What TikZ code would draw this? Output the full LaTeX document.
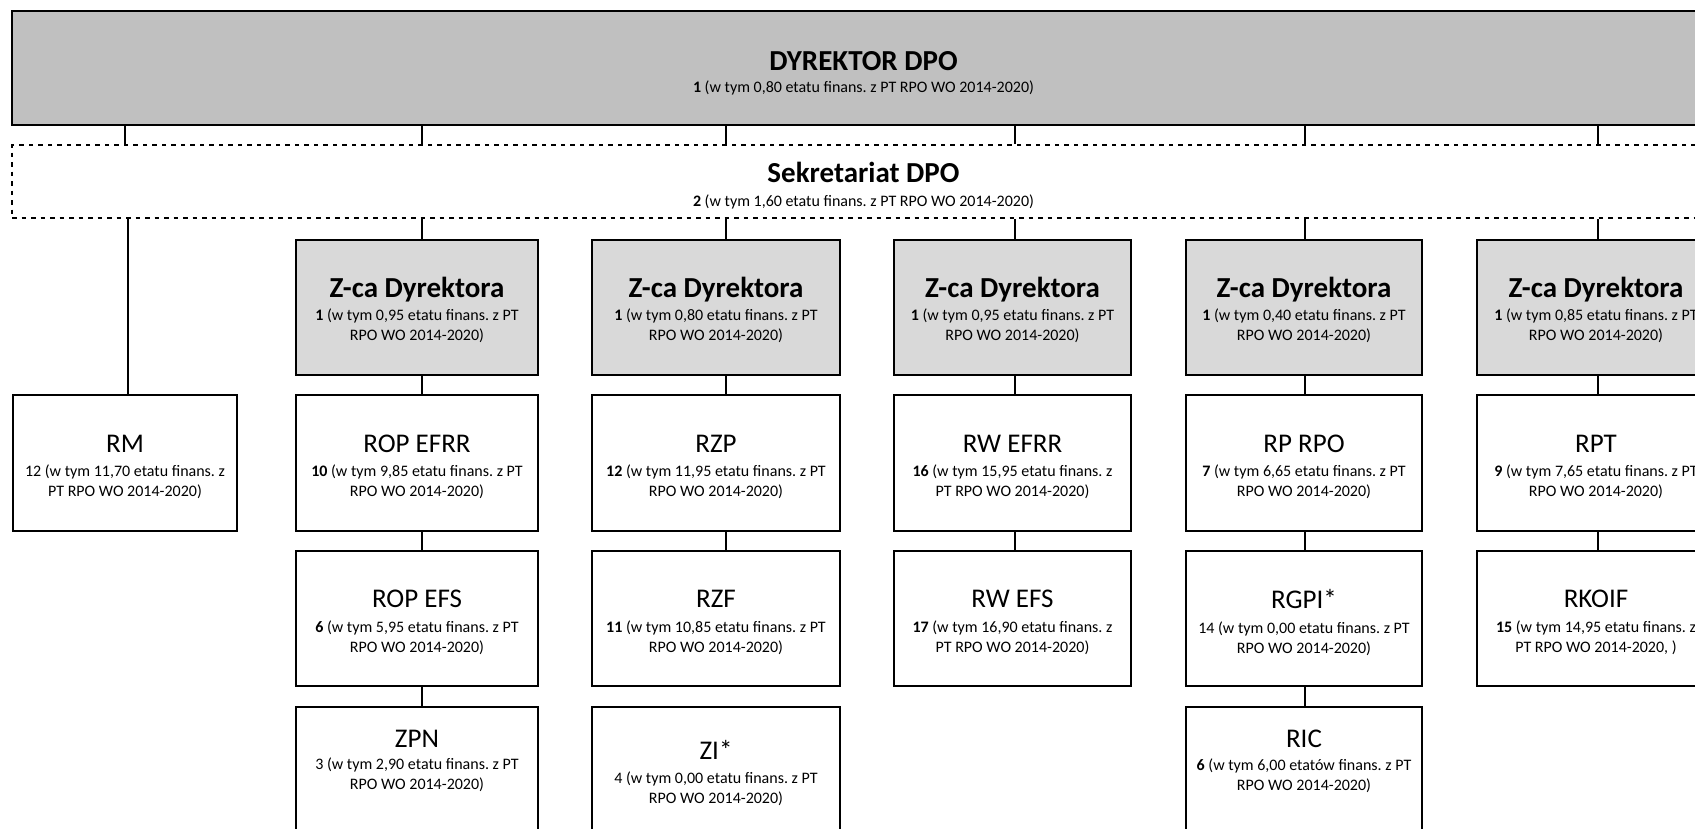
\documentclass[tikz,border=0pt]{standalone}
\usepackage{fontspec}
\setmainfont{Carlito}
\definecolor{dirgray}{RGB}{192,192,192}
\definecolor{zcagray}{RGB}{217,217,217}
\newcommand\mytitle{\fontsize{29}{34}\selectfont\bfseries}
\newcommand\myname{\fontsize{27}{32}\selectfont}
\newcommand\mysub{\fontsize{16}{19.8}\selectfont}
\tikzset{
  bx/.style={draw=black, line width=2pt, rectangle, inner sep=0pt},
  dirbox/.style={bx, fill=dirgray},
  zcabox/.style={bx, fill=zcagray, minimum height=135pt},
  unitbox/.style={bx, fill=white, minimum height=136pt},
  lastbox/.style={bx, fill=white, minimum height=153pt},
  dashbox/.style={draw=black, line width=2.4pt, dash pattern=on 4.5pt off 5pt, rectangle, inner sep=0pt, fill=white},
  conn/.style={draw=black, line width=2pt},
  lbl/.style={inner sep=0pt, align=center, font=\mysub},
  dirtxt/.style={lbl, yshift=-5.4pt},
  sektxt/.style={lbl, yshift=-4.3pt},
  zcatxt/.style={lbl, yshift=-2.5pt},
  unittxt/.style={lbl, yshift=-3.8pt},
  lasttxt/.style={lbl, anchor=north}
}
\begin{document}
\frenchspacing
\begin{tikzpicture}[x=1pt,y=-1pt]
\useasboundingbox (0,0) rectangle (1695,828);
\fill[white] (0,0) rectangle (1695,828);
\begin{scope}
\clip (0,0) rectangle (1695,828);

% connector columns
\coordinate (k0) at (125,0);
\coordinate (k0b) at (128,0);
\coordinate (k1) at (422,0);
\coordinate (k2) at (726,0);
\coordinate (k3) at (1014.5,0);
\coordinate (k4) at (1305,0);
\coordinate (k5) at (1598,0);

% top level
\node[dirbox, minimum width=1703pt, minimum height=114pt] (dyr) at (863.5,68) {};
\node[dirtxt] (dyrt) at (dyr) {{\mytitle DYREKTOR DPO}\\[1.7pt]\textbf{1} (w tym 0,80 etatu finans. z PT RPO WO 2014-2020)};
\node[dashbox, minimum width=1703pt, minimum height=73pt] (sek) at (863.5,181.5) {};
\node[sektxt] (sekt) at (sek) {{\mytitle Sekretariat DPO}\\[3.7pt]\textbf{2} (w tym 1,60 etatu finans. z PT RPO WO 2014-2020)};

% deputy directors
\node[zcabox, minimum width=242pt] (z1) at (417,307.5) {};
\node[zcabox, minimum width=248pt] (z2) at (716,307.5) {};
\node[zcabox, minimum width=237pt] (z3) at (1012.5,307.5) {};
\node[zcabox, minimum width=236pt] (z4) at (1304,307.5) {};
\node[zcabox, minimum width=238pt] (z5) at (1596,307.5) {};
\node[zcatxt] (z1t) at (z1) {{\mytitle Z-ca Dyrektora}\\[3pt]\textbf{1} (w tym 0,95 etatu finans. z PT\\RPO WO 2014-2020)};
\node[zcatxt] (z2t) at (z2) {{\mytitle Z-ca Dyrektora}\\[3pt]\textbf{1} (w tym 0,80 etatu finans. z PT\\RPO WO 2014-2020)};
\node[zcatxt] (z3t) at (z3) {{\mytitle Z-ca Dyrektora}\\[3pt]\textbf{1} (w tym 0,95 etatu finans. z PT\\RPO WO 2014-2020)};
\node[zcatxt] (z4t) at (z4) {{\mytitle Z-ca Dyrektora}\\[3pt]\textbf{1} (w tym 0,40 etatu finans. z PT\\RPO WO 2014-2020)};
\node[zcatxt] (z5t) at (z5) {{\mytitle Z-ca Dyrektora}\\[3pt]\textbf{1} (w tym 0,85 etatu finans. z PT\\RPO WO 2014-2020)};

% row 2
\node[unitbox, minimum width=224pt] (rm) at (125,463) {};
\node[unitbox, minimum width=242pt] (ropefrr) at (417,463) {};
\node[unitbox, minimum width=248pt] (rzp) at (716,463) {};
\node[unitbox, minimum width=237pt] (rwefrr) at (1012.5,463) {};
\node[unitbox, minimum width=236pt] (rprpo) at (1304,463) {};
\node[unitbox, minimum width=238pt] (rpt) at (1596,463) {};
\node[unittxt] (rmt) at (rm) {{\myname RM}\\[5pt]12 (w tym 11,70 etatu finans. z\\PT RPO WO 2014-2020)};
\node[unittxt] (ropefrrt) at (ropefrr) {{\myname ROP EFRR}\\[5pt]\textbf{10} (w tym 9,85 etatu finans. z PT\\RPO WO 2014-2020)};
\node[unittxt] (rzpt) at (rzp) {{\myname RZP}\\[5pt]\textbf{12} (w tym 11,95 etatu finans. z PT\\RPO WO 2014-2020)};
\node[unittxt] (rwefrrt) at (rwefrr) {{\myname RW EFRR}\\[5pt]\textbf{16} (w tym 15,95 etatu finans. z\\PT RPO WO 2014-2020)};
\node[unittxt] (rprpot) at (rprpo) {{\myname RP RPO}\\[5pt]\textbf{7} (w tym 6,65 etatu finans. z PT\\RPO WO 2014-2020)};
\node[unittxt] (rptt) at (rpt) {{\myname RPT}\\[5pt]\textbf{9} (w tym 7,65 etatu finans. z PT\\RPO WO 2014-2020)};

% row 3
\node[unitbox, minimum width=242pt, minimum height=135pt] (ropefs) at (417,618.5) {};
\node[unitbox, minimum width=248pt, minimum height=135pt] (rzf) at (716,618.5) {};
\node[unitbox, minimum width=237pt, minimum height=135pt] (rwefs) at (1012.5,618.5) {};
\node[unitbox, minimum width=236pt, minimum height=135pt] (rgpi) at (1304,618.5) {};
\node[unitbox, minimum width=238pt, minimum height=135pt] (rkoif) at (1596,618.5) {};
\node[unittxt] (ropefst) at (ropefs) {{\myname ROP EFS}\\[5pt]\textbf{6} (w tym 5,95 etatu finans. z PT\\RPO WO 2014-2020)};
\node[unittxt] (rzft) at (rzf) {{\myname RZF}\\[5pt]\textbf{11} (w tym 10,85 etatu finans. z PT\\RPO WO 2014-2020)};
\node[unittxt] (rwefst) at (rwefs) {{\myname RW EFS}\\[5pt]\textbf{17} (w tym 16,90 etatu finans. z\\PT RPO WO 2014-2020)};
\node[unittxt] (rgpit) at (rgpi) {{\myname RGPI*}\\[5pt]14 (w tym 0,00 etatu finans. z PT\\RPO WO 2014-2020)};
\node[unittxt] (rkoift) at (rkoif) {{\myname RKOIF}\\[5pt]\textbf{15} (w tym 14,95 etatu finans. z\\PT RPO WO 2014-2020, )};

% row 4 (boxes continue below the edge)
\node[lastbox, minimum width=242pt] (zpn) at (417,783.5) {};
\node[lastbox, minimum width=248pt] (zi) at (716,783.5) {};
\node[lastbox, minimum width=236pt] (ric) at (1304,783.5) {};
\node[lasttxt] (zpnt) at (417,729.5) {{\myname ZPN}\\[3pt]3 (w tym 2,90 etatu finans. z PT\\RPO WO 2014-2020)};
\node[lasttxt] (zit) at (716,740.5) {{\myname ZI*}\\[4pt]4 (w tym 0,00 etatu finans. z PT\\RPO WO 2014-2020)};
\node[lasttxt] (rict) at (1304,730) {{\myname RIC}\\[3pt]\textbf{6} (w tym 6,00 etatów finans. z PT\\RPO WO 2014-2020)};

% connectors
\foreach \k in {k0,k1,k2,k3,k4,k5} {
  \draw[conn] (dyr.south -| \k) -- (sek.north -| \k);
}
\draw[conn] (sek.south -| k0b) -- (rm.north -| k0b);
\draw[conn] (sek.south -| k1) -- (z1.north -| k1);
\draw[conn] (sek.south -| k2) -- (z2.north -| k2);
\draw[conn] (sek.south -| k3) -- (z3.north -| k3);
\draw[conn] (sek.south -| k4) -- (z4.north -| k4);
\draw[conn] (sek.south -| k5) -- (z5.north -| k5);
\draw[conn] (z1.south -| k1) -- (ropefrr.north -| k1);
\draw[conn] (z2.south -| k2) -- (rzp.north -| k2);
\draw[conn] (z3.south -| k3) -- (rwefrr.north -| k3);
\draw[conn] (z4.south -| k4) -- (rprpo.north -| k4);
\draw[conn] (z5.south -| k5) -- (rpt.north -| k5);
\draw[conn] (ropefrr.south -| k1) -- (ropefs.north -| k1);
\draw[conn] (rzp.south -| k2) -- (rzf.north -| k2);
\draw[conn] (rwefrr.south -| k3) -- (rwefs.north -| k3);
\draw[conn] (rprpo.south -| k4) -- (rgpi.north -| k4);
\draw[conn] (rpt.south -| k5) -- (rkoif.north -| k5);
\draw[conn] (ropefs.south -| k1) -- (zpn.north -| k1);
\draw[conn] (rgpi.south -| k4) -- (ric.north -| k4);
\end{scope}
\end{tikzpicture}
\end{document}
